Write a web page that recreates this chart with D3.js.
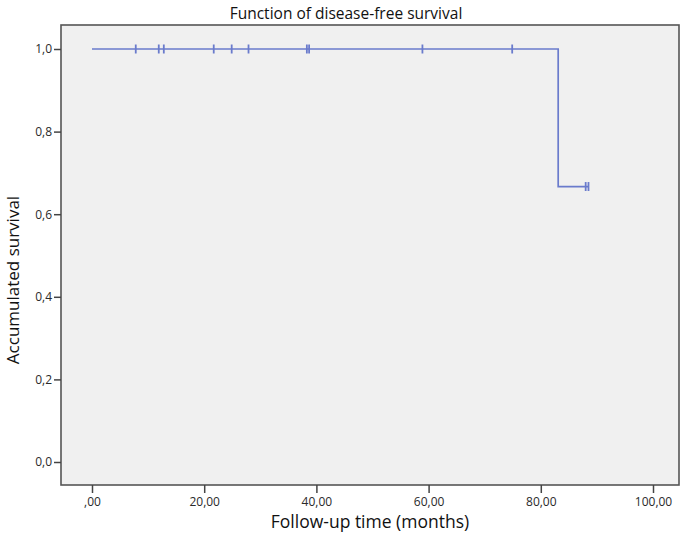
<!DOCTYPE html>
<html>
<head>
<meta charset="utf-8">
<script src="https://cdn.jsdelivr.net/npm/d3@7"></script>
<style>
  body { margin: 0; background: #fff; }
  text { font-family: "Open Sans", "Noto Sans", sans-serif; }
</style>
</head>
<body>
<div id="chart"></div>
<script>
// Kaplan-Meier steps (months, survival)
const stepTimes    = [0, 83.1, 88.5];
const stepSurvival = [1.0, 0.667, 0.667];
// censored observations (months)
const censoredTimes = [7.8, 11.9, 12.8, 21.7, 24.9, 27.9, 38.3, 38.7, 58.9, 74.9, 88.0, 88.5];
const xTicks = [0, 20, 40, 60, 80, 100];
const yTicks = [0, 0.2, 0.4, 0.6, 0.8, 1.0];

const W = 685, H = 535;
const frame = { left: 61, right: 679, top: 25, bottom: 485 };

const svg = d3.select("#chart").append("svg")
  .attr("width", W).attr("height", H);

const x = d3.scaleLinear().domain([0, 100]).range([92, 653]);
const y = d3.scaleLinear().domain([0, 1]).range([462, 49]);

// plot area
svg.append("rect")
  .attr("x", frame.left).attr("y", frame.top)
  .attr("width", frame.right - frame.left)
  .attr("height", frame.bottom - frame.top)
  .attr("fill", "#f0f0f0")
  .attr("stroke", "#555")
  .attr("stroke-width", 1.6);

// ── Axes ──────────────────────────────────────
const fmtX = d => d === 0 ? ",00" : d.toFixed(2).replace(".", ",");
const fmtY = d => d.toFixed(1).replace(".", ",");

svg.append("g")
  .attr("transform", `translate(0,${frame.bottom})`)
  .call(d3.axisBottom(x).tickValues(xTicks).tickFormat(fmtX).tickSize(8).tickPadding(4))
  .call(g => g.select(".domain").remove())
  .call(g => g.selectAll("line").attr("stroke", "#444").attr("stroke-width", 1.5))
  .call(g => g.selectAll("text").attr("fill", "#2a2a2a").style("font-size", "12px"));

svg.append("g")
  .attr("transform", `translate(${frame.left},0)`)
  .call(d3.axisLeft(y).tickValues(yTicks).tickFormat(fmtY).tickSize(7).tickPadding(2))
  .call(g => g.select(".domain").remove())
  .call(g => g.selectAll("line").attr("stroke", "#444").attr("stroke-width", 1.5))
  .call(g => g.selectAll("text").attr("fill", "#2a2a2a").style("font-size", "12px"));

// ── Survival curve ────────────────────────────
const stepData = stepTimes.map((t, i) => [t, stepSurvival[i]]);
svg.append("path")
  .datum(stepData)
  .attr("fill", "none")
  .attr("stroke", "#6a7bcc")
  .attr("stroke-width", 1.7)
  .attr("d", d3.line().x(d => x(d[0])).y(d => y(d[1])).curve(d3.curveStepAfter));

const survAt = t => {
  let s = stepSurvival[0];
  stepTimes.forEach((st, i) => { if (t >= st) s = stepSurvival[i]; });
  return s;
};

svg.selectAll(".censor")
  .data(censoredTimes).enter().append("line")
  .attr("class", "censor")
  .attr("x1", d => x(d)).attr("x2", d => x(d))
  .attr("y1", d => y(survAt(d)) - 4.5)
  .attr("y2", d => y(survAt(d)) + 4.5)
  .attr("stroke", "#6a7bcc")
  .attr("stroke-width", 1.8);

// ── Titles ────────────────────────────────────
svg.append("text")
  .attr("x", 346).attr("y", 19)
  .attr("text-anchor", "middle")
  .style("font-size", "15.5px")
  .attr("fill", "#111")
  .text("Function of disease-free survival");

svg.append("text")
  .attr("x", 370).attr("y", 528)
  .attr("text-anchor", "middle")
  .style("font-size", "17.5px")
  .attr("fill", "#111")
  .text("Follow-up time (months)");

svg.append("text")
  .attr("transform", "translate(19,280) rotate(-90)")
  .attr("text-anchor", "middle")
  .style("font-size", "17px")
  .attr("fill", "#111")
  .text("Accumulated survival");
</script>
</body>
</html>
